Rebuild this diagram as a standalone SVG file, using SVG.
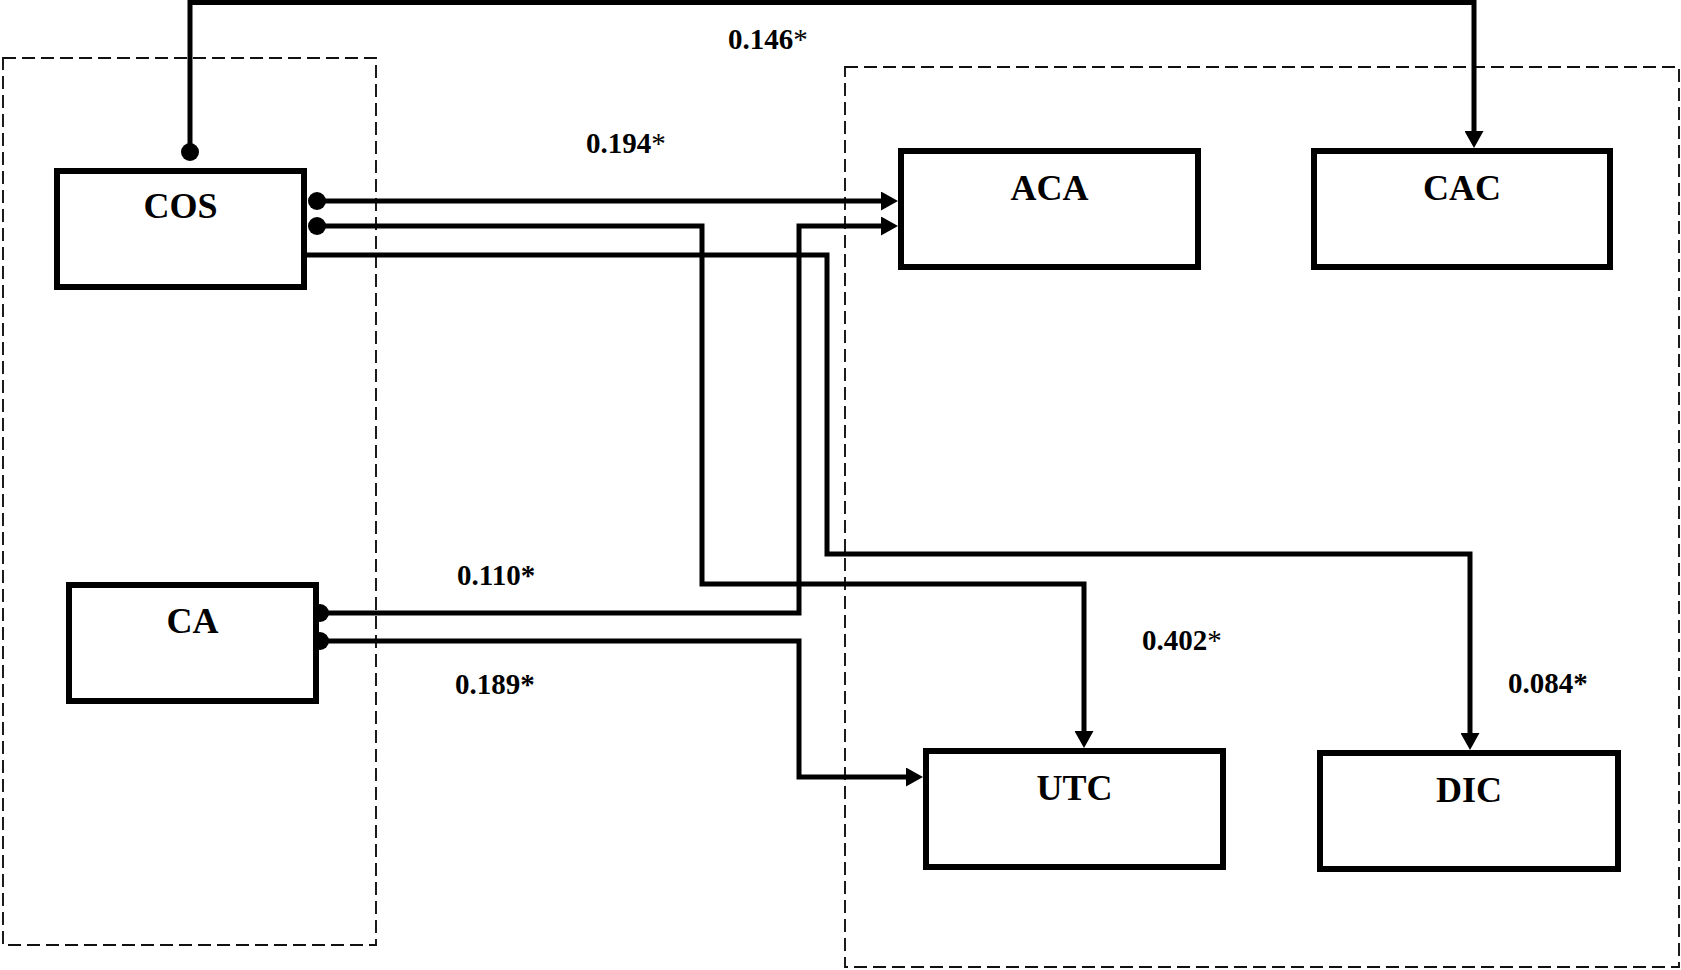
<svg xmlns="http://www.w3.org/2000/svg" width="1681" height="970" viewBox="0 0 1681 970">
<style>
.grp{fill:none;stroke:#111;stroke-width:1.9;stroke-dasharray:13 6}
.box{fill:#fff;stroke:#000;stroke-width:6}
.lbl{font-family:"Liberation Serif","Times New Roman",serif;font-weight:bold;font-size:36px;fill:#000;text-anchor:middle}
.coef{font-family:"Liberation Serif","Times New Roman",serif;font-weight:bold;font-size:29px;fill:#000}
.thin{font-weight:normal}
.ln{fill:none;stroke:#000;stroke-width:5;stroke-linejoin:miter}
.dot{fill:#000}
</style>
<defs>
<marker id="arr" markerUnits="userSpaceOnUse" markerWidth="17" markerHeight="19" viewBox="0 0 17 19" refX="12" refY="9.5" orient="auto">
<path d="M0,0 L17,9.5 L0,19 z" fill="#000"/>
</marker>
</defs>
<g id="groups">
<rect class="grp" x="3" y="58" width="373" height="887"/>
<rect class="grp" x="845" y="67" width="834" height="900"/>
</g>
<g id="connectors">
<path class="ln" d="M190,152 V2.5 H1474 V143" marker-end="url(#arr)"/>
<path class="ln" d="M317,201 H893" marker-end="url(#arr)"/>
<path class="ln" d="M317,226 H702 V584 H1084 V743" marker-end="url(#arr)"/>
<path class="ln" d="M307,255 H827 V554 H1470 V745" marker-end="url(#arr)"/>
<path class="ln" d="M320,613 H799 V226 H893" marker-end="url(#arr)"/>
<path class="ln" d="M320,641 H799 V777 H918" marker-end="url(#arr)"/>
<circle class="dot" cx="190" cy="152" r="9"/>
<circle class="dot" cx="317" cy="201" r="9"/>
<circle class="dot" cx="317" cy="226" r="9"/>
<circle class="dot" cx="320" cy="613" r="9"/>
<circle class="dot" cx="320" cy="641" r="9"/>
</g>
<g id="labels">
<text class="coef" x="728" y="49">0.146<tspan class="thin">*</tspan></text>
<text class="coef" x="586" y="153">0.194<tspan class="thin">*</tspan></text>
<text class="coef" x="457" y="585">0.110*</text>
<text class="coef" x="455" y="694">0.189*</text>
<text class="coef" x="1142" y="650">0.402<tspan class="thin">*</tspan></text>
<text class="coef" x="1508" y="693">0.084*</text>
</g>
<g id="COS"><rect class="box" x="57" y="171" width="247" height="116"/><text class="lbl" x="180.5" y="218">COS</text></g>
<g id="CA"><rect class="box" x="69" y="585" width="247" height="116"/><text class="lbl" x="192.5" y="633">CA</text></g>
<g id="ACA"><rect class="box" x="901" y="151" width="297" height="116"/><text class="lbl" x="1049.5" y="200">ACA</text></g>
<g id="CAC"><rect class="box" x="1314" y="151" width="296" height="116"/><text class="lbl" x="1462" y="200">CAC</text></g>
<g id="UTC"><rect class="box" x="926" y="751" width="297" height="116"/><text class="lbl" x="1074.5" y="800">UTC</text></g>
<g id="DIC"><rect class="box" x="1320" y="753" width="298" height="116"/><text class="lbl" x="1469" y="802">DIC</text></g>
</svg>
